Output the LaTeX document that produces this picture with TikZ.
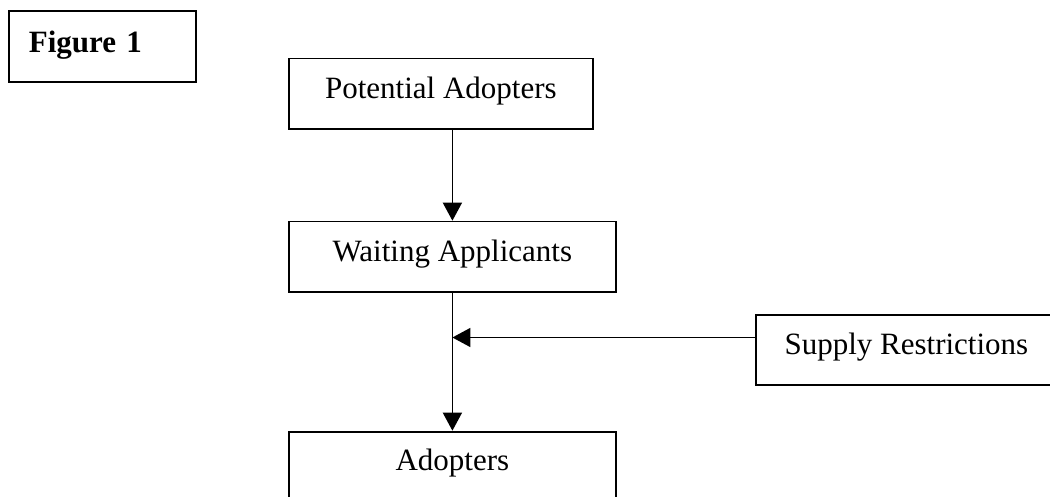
\documentclass[tikz,border=0pt]{standalone}
\usepackage{fontspec}
\setmainfont{Liberation Serif}
\usetikzlibrary{arrows.meta,calc}

\begin{document}
\begin{tikzpicture}[x=1pt,y=-1pt,
  stockbox/.style={draw, line width=1.8pt, inner xsep=0pt, inner ysep=0pt,
    text height=40.3pt, text depth=30pt, anchor=north west,
    font=\fontsize{31}{37}\selectfont},
  flow/.style={line width=1.5pt, -{Triangle[length=18pt,width=19pt]}}]
  \useasboundingbox (0,0) rectangle (1050,497);
  \clip (0,0) rectangle (1050,497);

  % title box
  \node[stockbox, text height=41.7pt, text depth=29.3pt, inner xsep=20pt,
        text width=147pt, align=left, font=\fontsize{31}{37}\selectfont\bfseries]
        (fig) at (8,10) {Figure 1};

  % stocks and the restricting factor
  \node[stockbox, minimum width=304pt] (pot) at (288,57.7) {Potential Adopters};
  \node[stockbox, minimum width=327pt] (wait) at (288,220.7) {Waiting Applicants};
  \node[stockbox, minimum width=301.6pt] (sup) at (754.7,313.7) {Supply Restrictions};
  \node[stockbox, minimum width=327pt, text height=39.3pt, text depth=40pt] (adopt) at (288,430.7) {Adopters};

  % the restriction enters at the height of its label
  \coordinate (supout) at ($(sup.north west)+(0,23.8)$);

  % flows
  \draw[flow] (pot.south -| wait.south) -- (wait.north);
  \draw[flow] (wait.south) -- (adopt.north);
  \draw[flow] (supout) -- (supout -| wait.south);
\end{tikzpicture}
\end{document}
